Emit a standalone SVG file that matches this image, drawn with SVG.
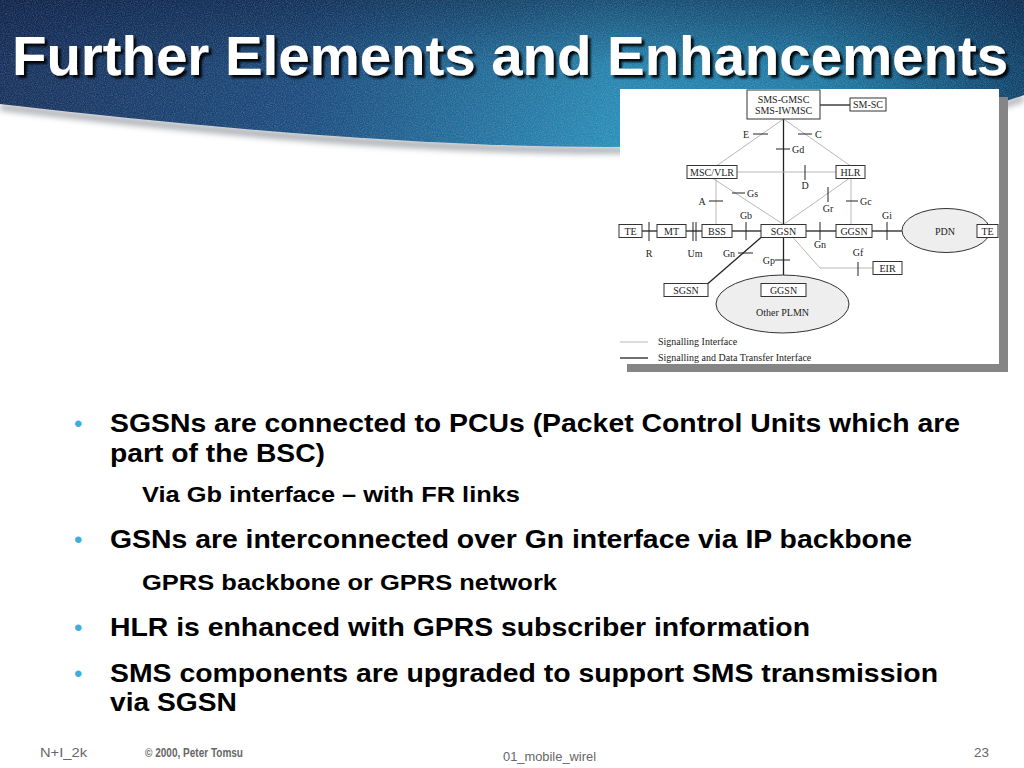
<svg xmlns="http://www.w3.org/2000/svg" width="1024" height="768" viewBox="0 0 1024 768">
<defs>
<linearGradient id="bannerH" x1="0" y1="0" x2="1" y2="0">
<stop offset="0" stop-color="#19335f"/>
<stop offset="0.3" stop-color="#1d4f82"/>
<stop offset="0.6" stop-color="#2a8fba"/>
<stop offset="0.8" stop-color="#2282ad"/>
<stop offset="1" stop-color="#10466e"/>
</linearGradient>
<linearGradient id="bannerV" x1="0" y1="0" x2="0" y2="1">
<stop offset="0" stop-color="#08183a" stop-opacity="0.55"/>
<stop offset="0.45" stop-color="#08183a" stop-opacity="0.1"/>
<stop offset="1" stop-color="#08183a" stop-opacity="0"/>
</linearGradient>
<filter id="blur3" x="-5%" y="-20%" width="110%" height="160%"><feGaussianBlur stdDeviation="3"/></filter>
<filter id="tex" x="0" y="0" width="100%" height="100%">
<feTurbulence type="fractalNoise" baseFrequency="0.9" numOctaves="2" seed="3"/>
<feColorMatrix type="matrix" values="0 0 0 0 1  0 0 0 0 1  0 0 0 0 1  0 0 0 -1.4 0.9"/>
<feComposite in2="SourceGraphic" operator="in"/>
</filter>
<filter id="tshadow" x="-2%" y="-20%" width="104%" height="150%"><feDropShadow dx="3" dy="3" stdDeviation="0.8" flood-color="#000" flood-opacity="0.9"/></filter>
<clipPath id="bclip"><path d="M0,0 H1024 V95 C800,175 400,150 0,104 Z"/></clipPath>
</defs>
<style>
.box{fill:#fff;stroke:#333;stroke-width:1}
.ell{fill:#eeeeee;stroke:#333;stroke-width:1}
.lbl{font-family:"Liberation Serif","Times New Roman",serif;font-size:10px;fill:#222}
.mid{text-anchor:middle}
.end{text-anchor:end}
.dark{stroke:#222;stroke-width:1.3;fill:none}
.grey{stroke:#b0b0b0;stroke-width:0.9;fill:none}
.tick{stroke:#222;stroke-width:1;fill:none}
.b1{font-family:"Liberation Sans",Arial,sans-serif;font-weight:bold;font-size:25px;fill:#000}
.b2{font-family:"Liberation Sans",Arial,sans-serif;font-weight:bold;font-size:21.5px;fill:#000}
.dot{font-family:"Liberation Sans",Arial,sans-serif;font-size:24px;fill:#3aaee0}
.foot{font-family:"Liberation Sans",Arial,sans-serif;font-size:12px;fill:#666}
</style>
<rect width="1024" height="768" fill="#ffffff"/>
<g id="banner">
<path d="M0,110 C400,158 800,180 1024,101 V95 C800,175 400,150 0,104 Z" fill="#8a8f96" filter="url(#blur3)" opacity="0.8"/>
<path d="M0,0 H1024 V95 C800,175 400,150 0,104 Z" fill="url(#bannerH)"/>
<path d="M0,0 H1024 V95 C800,175 400,150 0,104 Z" fill="url(#bannerV)"/>
<rect x="0" y="0" width="1024" height="180" fill="#000" opacity="0.25" filter="url(#tex)" clip-path="url(#bclip)"/>
<text x="12" y="75" font-family="'Liberation Sans',Arial,sans-serif" font-weight="bold" font-size="56" fill="#ffffff" textLength="996" lengthAdjust="spacingAndGlyphs" filter="url(#tshadow)">Further Elements and Enhancements</text>
</g>
<rect x="627" y="97" width="381" height="275" fill="#858585"/>
<rect x="620" y="89" width="379" height="275" fill="#ffffff"/>
<g id="connectors">
<line class="dark" x1="783.5" y1="119" x2="783.5" y2="224.5"/>
<line class="dark" x1="820" y1="105" x2="850" y2="105"/>
<line class="dark" x1="642" y1="231" x2="657" y2="231"/>
<line class="dark" x1="686" y1="231" x2="702" y2="231"/>
<line class="dark" x1="732" y1="231" x2="761" y2="231"/>
<line class="dark" x1="806" y1="231" x2="836" y2="231"/>
<line class="dark" x1="872" y1="231" x2="902" y2="231"/>
<line class="dark" x1="761" y1="237.5" x2="708" y2="283.5"/>
<line class="dark" x1="783.5" y1="237.5" x2="783.5" y2="283.5"/>
<line class="grey" x1="783.5" y1="119" x2="717" y2="165.5"/>
<line class="grey" x1="783.5" y1="119" x2="850" y2="165.5"/>
<line class="grey" x1="737" y1="172" x2="836" y2="172"/>
<line class="grey" x1="713" y1="178.5" x2="783.5" y2="224.5"/>
<line class="grey" x1="716" y1="178.5" x2="716" y2="224.5"/>
<line class="grey" x1="849" y1="178.5" x2="783.5" y2="224.5"/>
<line class="grey" x1="851" y1="178.5" x2="851" y2="224.5"/>
<polyline class="grey" points="793,237.5 820,268 873,268"/>
<line class="tick" x1="753" y1="134" x2="768" y2="134"/>
<line class="tick" x1="798" y1="134" x2="812" y2="134"/>
<line class="tick" x1="776" y1="149" x2="790" y2="149"/>
<line class="tick" x1="805" y1="165" x2="805" y2="180"/>
<line class="tick" x1="732" y1="193" x2="745" y2="193"/>
<line class="tick" x1="709" y1="201" x2="723" y2="201"/>
<line class="tick" x1="828" y1="187" x2="828" y2="202"/>
<line class="tick" x1="846" y1="201" x2="858" y2="201"/>
<line class="tick" x1="746" y1="222" x2="746" y2="240"/>
<line class="tick" x1="649" y1="222" x2="649" y2="241"/>
<line class="tick" x1="693" y1="222" x2="693" y2="241"/>
<line class="tick" x1="696" y1="222" x2="696" y2="241"/>
<line class="tick" x1="738" y1="253" x2="753" y2="253"/>
<line class="tick" x1="775" y1="260" x2="790" y2="260"/>
<line class="tick" x1="820" y1="222" x2="820" y2="240"/>
<line class="tick" x1="887" y1="222" x2="887" y2="240"/>
<line class="tick" x1="858" y1="262" x2="858" y2="276"/>
</g>
<g id="interface-labels">
<text class="lbl mid" x="746" y="138">E</text>
<text class="lbl" x="815" y="138">C</text>
<text class="lbl" x="792" y="153">Gd</text>
<text class="lbl mid" x="805" y="189">D</text>
<text class="lbl" x="747" y="197">Gs</text>
<text class="lbl mid" x="702" y="205">A</text>
<text class="lbl mid" x="828" y="212">Gr</text>
<text class="lbl" x="860" y="205">Gc</text>
<text class="lbl mid" x="746" y="219">Gb</text>
<text class="lbl mid" x="887" y="219">Gi</text>
<text class="lbl mid" x="649" y="257">R</text>
<text class="lbl mid" x="695" y="257">Um</text>
<text class="lbl mid" x="729" y="257">Gn</text>
<text class="lbl end" x="775" y="264">Gp</text>
<text class="lbl mid" x="820" y="248">Gn</text>
<text class="lbl mid" x="858" y="256">Gf</text>
</g>
<g id="n-sms"><rect class="box" x="747" y="90" width="73" height="29"/><text class="lbl mid" x="783.5" y="102.5">SMS-GMSC</text><text class="lbl mid" x="783.5" y="113.5">SMS-IWMSC</text></g>
<g id="n-smsc"><rect class="box" x="850" y="98" width="36" height="13"/><text class="lbl mid" x="868" y="108">SM-SC</text></g>
<g id="n-msc"><rect class="box" x="687" y="165.5" width="50" height="13"/><text class="lbl mid" x="712" y="175.5">MSC/VLR</text></g>
<g id="n-hlr"><rect class="box" x="836" y="165.5" width="29" height="13"/><text class="lbl mid" x="850.5" y="175.5">HLR</text></g>
<g id="n-te1"><rect class="box" x="619" y="224.5" width="23" height="13"/><text class="lbl mid" x="630.5" y="234.5">TE</text></g>
<g id="n-mt"><rect class="box" x="657" y="224.5" width="29" height="13"/><text class="lbl mid" x="671.5" y="234.5">MT</text></g>
<g id="n-bss"><rect class="box" x="702" y="224.5" width="30" height="13"/><text class="lbl mid" x="717" y="234.5">BSS</text></g>
<g id="n-sgsn"><rect class="box" x="761" y="224.5" width="45" height="13"/><text class="lbl mid" x="783.5" y="234.5">SGSN</text></g>
<g id="n-ggsn"><rect class="box" x="836" y="224.5" width="36" height="13"/><text class="lbl mid" x="854" y="234.5">GGSN</text></g>
<g id="n-pdn"><ellipse class="ell" cx="946" cy="230.5" rx="44" ry="22"/><text class="lbl mid" x="945" y="234.5">PDN</text></g>
<g id="n-te2"><rect class="box" x="977" y="224.5" width="21" height="13"/><text class="lbl mid" x="987.5" y="234.5">TE</text></g>
<g id="n-eir"><rect class="box" x="873" y="261.5" width="29" height="13"/><text class="lbl mid" x="887.5" y="271.5">EIR</text></g>
<g id="n-plmn"><ellipse class="ell" cx="782.5" cy="304" rx="66.5" ry="29"/><text class="lbl mid" x="782.5" y="315.5">Other PLMN</text></g>
<g id="n-sgsn2"><rect class="box" x="664" y="283.5" width="44" height="13"/><text class="lbl mid" x="686" y="293.5">SGSN</text></g>
<g id="n-ggsn2"><rect class="box" x="761" y="283.5" width="45" height="13"/><text class="lbl mid" x="783.5" y="293.5">GGSN</text></g>
<g id="legend">
<line class="grey" x1="620" y1="342" x2="648" y2="342"/>
<text class="lbl" x="658" y="345">Signalling Interface</text>
<line class="dark" x1="620" y1="358" x2="648" y2="358"/>
<text class="lbl" x="658" y="361">Signalling and Data Transfer Interface</text>
</g>
<g id="bullets">
<text class="dot" x="74" y="432">•</text>
<text class="b1" x="110" y="432" textLength="850" lengthAdjust="spacingAndGlyphs">SGSNs are connected to PCUs (Packet Control Units which are</text>
<text class="b1" x="110" y="462" textLength="215" lengthAdjust="spacingAndGlyphs">part of the BSC)</text>
<text class="b2" x="142" y="502" textLength="378" lengthAdjust="spacingAndGlyphs">Via Gb interface – with FR links</text>
<text class="dot" x="74" y="548">•</text>
<text class="b1" x="110" y="548" textLength="802" lengthAdjust="spacingAndGlyphs">GSNs are interconnected over Gn interface via IP backbone</text>
<text class="b2" x="142" y="590" textLength="415" lengthAdjust="spacingAndGlyphs">GPRS backbone or GPRS network</text>
<text class="dot" x="74" y="636">•</text>
<text class="b1" x="110" y="636" textLength="700" lengthAdjust="spacingAndGlyphs">HLR is enhanced with GPRS subscriber information</text>
<text class="dot" x="74" y="682">•</text>
<text class="b1" x="110" y="682" textLength="828" lengthAdjust="spacingAndGlyphs">SMS components are upgraded to support SMS transmission</text>
<text class="b1" x="110" y="711" textLength="127" lengthAdjust="spacingAndGlyphs">via SGSN</text>
</g>
<g id="footer">
<text class="foot" x="40" y="757" textLength="47" lengthAdjust="spacingAndGlyphs">N+I_2k</text>
<text class="foot" x="145" y="757" font-size="9.5" font-weight="bold" textLength="98" lengthAdjust="spacingAndGlyphs">© 2000, Peter Tomsu</text>
<text class="foot" x="503" y="761" textLength="93" lengthAdjust="spacingAndGlyphs">01_mobile_wirel</text>
<text class="foot" x="974" y="757" textLength="15" lengthAdjust="spacingAndGlyphs">23</text>
</g>
</svg>
